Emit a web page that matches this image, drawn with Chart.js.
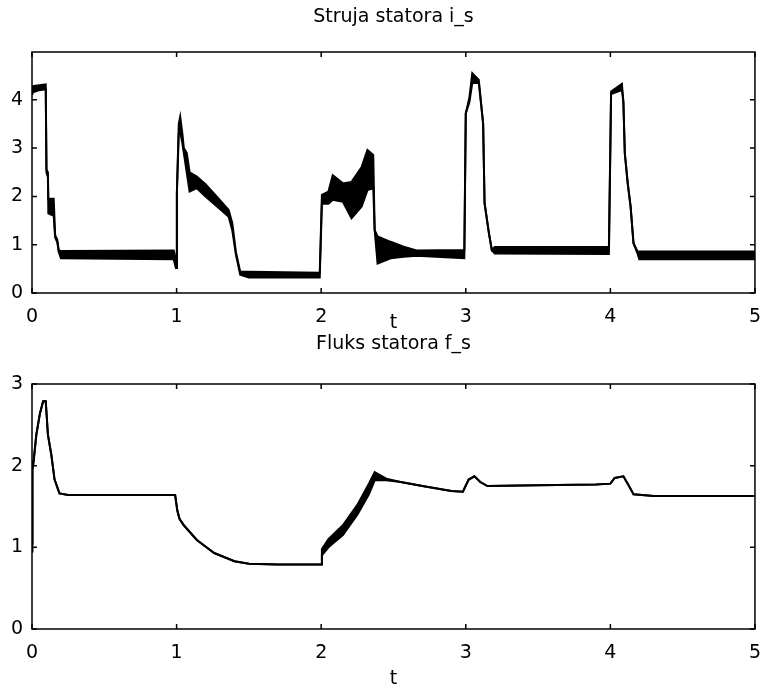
<!DOCTYPE html>
<html>
<head>
<meta charset="utf-8">
<script src="https://cdn.jsdelivr.net/npm/chart.js@4.4.1/dist/chart.umd.min.js"></script>
<style>
  html, body { margin: 0; padding: 0; background: #ffffff; }
  #wrap { position: relative; width: 774px; height: 691px; }
  canvas { position: absolute; left: 0; top: 0; }
</style>
</head>
<body>
<div id="wrap">
  <canvas id="c1" width="774" height="691"></canvas>
  <canvas id="c2" width="774" height="691"></canvas>
</div>
<script>
// ---------- data ----------
const xTicks = [0, 1, 2, 3, 4, 5];
const topYTicks = [0, 1, 2, 3, 4];
const botYTicks = [0, 1, 2, 3];
const topTitle = "Struja statora i_s";
const botTitle = "Fluks statora f_s";
const xLabel = "t";

// stator current: time, lower and upper edge of the (noisy) trace
const curT  = [0.000, 0.003, 0.050, 0.095, 0.100, 0.110, 0.113, 0.150, 0.160, 0.175, 0.185, 0.200, 0.980, 0.995, 1.000, 1.002, 1.015, 1.025, 1.040, 1.050, 1.070, 1.090, 1.140, 1.200, 1.280, 1.360, 1.385, 1.410, 1.440, 1.500, 1.990, 2.005, 2.050, 2.080, 2.150, 2.210, 2.280, 2.320, 2.360, 2.370, 2.390, 2.480, 2.570, 2.660, 2.990, 3.000, 3.025, 3.045, 3.090, 3.120, 3.130, 3.160, 3.180, 3.200, 3.990, 4.005, 4.080, 4.090, 4.100, 4.120, 4.140, 4.160, 4.190, 4.200, 5.000];
const curLo = [4.12, 4.15, 4.20, 4.22, 2.50, 2.40, 1.65, 1.60, 1.15, 1.05, 0.85, 0.72, 0.70, 0.52, 0.52, 2.07, 3.30, 3.35, 3.10, 2.90, 2.50, 2.10, 2.17, 2.00, 1.79, 1.58, 1.30, 0.80, 0.38, 0.32, 0.32, 1.85, 1.85, 1.93, 1.89, 1.55, 1.79, 2.13, 2.17, 1.30, 0.61, 0.72, 0.75, 0.77, 0.72, 3.72, 3.95, 4.35, 4.35, 3.51, 1.86, 1.24, 0.89, 0.82, 0.81, 4.12, 4.20, 3.96, 2.89, 2.27, 1.79, 1.03, 0.80, 0.70, 0.70];
const curHi = [4.22, 4.28, 4.30, 4.32, 2.55, 2.50, 1.95, 1.95, 1.20, 1.10, 0.88, 0.87, 0.88, 0.70, 0.52, 2.07, 3.50, 3.65, 3.30, 3.00, 2.90, 2.50, 2.41, 2.25, 1.99, 1.72, 1.45, 0.85, 0.44, 0.44, 0.42, 2.03, 2.10, 2.44, 2.27, 2.30, 2.61, 2.96, 2.86, 1.30, 1.17, 1.06, 0.96, 0.88, 0.89, 3.72, 4.05, 4.55, 4.41, 3.51, 1.86, 1.24, 0.89, 0.95, 0.96, 4.17, 4.33, 3.96, 2.89, 2.27, 1.79, 1.03, 0.85, 0.86, 0.86];

// stator flux: time, lower and upper edge of the trace
const fluxT  = [0.000, 0.003, 0.010, 0.030, 0.055, 0.077, 0.095, 0.110, 0.134, 0.156, 0.190, 0.250, 0.990, 1.005, 1.020, 1.050, 1.140, 1.260, 1.400, 1.500, 1.700, 2.000, 2.005, 2.050, 2.150, 2.250, 2.330, 2.370, 2.450, 2.550, 2.700, 2.900, 2.980, 3.020, 3.060, 3.100, 3.150, 3.500, 3.900, 4.000, 4.030, 4.090, 4.120, 4.160, 4.300, 5.000];
const fluxLo = [0.95, 1.95, 2.02, 2.38, 2.64, 2.79, 2.79, 2.38, 2.13, 1.83, 1.66, 1.64, 1.64, 1.45, 1.35, 1.27, 1.09, 0.93, 0.83, 0.80, 0.79, 0.79, 0.90, 1.00, 1.15, 1.40, 1.65, 1.82, 1.82, 1.80, 1.75, 1.69, 1.68, 1.83, 1.87, 1.80, 1.75, 1.76, 1.77, 1.78, 1.85, 1.87, 1.78, 1.65, 1.63, 1.63];
const fluxHi = [1.05, 2.05, 2.05, 2.38, 2.64, 2.79, 2.79, 2.38, 2.13, 1.83, 1.66, 1.64, 1.64, 1.45, 1.35, 1.27, 1.09, 0.93, 0.83, 0.80, 0.79, 0.79, 0.98, 1.10, 1.27, 1.52, 1.78, 1.92, 1.84, 1.80, 1.75, 1.69, 1.68, 1.83, 1.87, 1.80, 1.75, 1.76, 1.77, 1.78, 1.85, 1.87, 1.78, 1.65, 1.63, 1.63];

// ---------- helpers ----------
const FONT = "DejaVu Sans, Verdana, sans-serif";
const FSIZE = 19;

function pts(t, v) { return t.map((x, i) => ({ x: x, y: v[i] })); }

const frameAndText = {
  id: 'frameAndText',
  afterDraw(chart, args, opts) {
    const ctx = chart.ctx;
    const a = chart.chartArea;
    const xs = chart.scales.x, ys = chart.scales.y;
    ctx.save();
    ctx.strokeStyle = '#000';
    ctx.lineWidth = 1.5;
    ctx.strokeRect(a.left, a.top, a.right - a.left, a.bottom - a.top);
    const L = 5;
    ctx.beginPath();
    xs.ticks.forEach(tk => {
      const px = xs.getPixelForValue(tk.value);
      ctx.moveTo(px, a.bottom); ctx.lineTo(px, a.bottom - L);
      ctx.moveTo(px, a.top); ctx.lineTo(px, a.top + L);
    });
    ys.ticks.forEach(tk => {
      const py = ys.getPixelForValue(tk.value);
      ctx.moveTo(a.left, py); ctx.lineTo(a.left + L, py);
      ctx.moveTo(a.right, py); ctx.lineTo(a.right - L, py);
    });
    ctx.stroke();
    ctx.fillStyle = '#000';
    ctx.font = FSIZE + 'px ' + FONT;
    ctx.textAlign = 'center';
    ctx.textBaseline = 'middle';
    const cx = (a.left + a.right) / 2;
    ctx.fillText(opts.title, cx, opts.titleY);
    ctx.fillText(opts.xlabel, cx, opts.xlabelY);
    ctx.restore();
  }
};

function makeChart(id, t, lo, hi, yMax, yTicks, padTop, areaBottom, title, titleY, xlabelY) {
  return new Chart(document.getElementById(id), {
    type: 'line',
    data: {
      datasets: [
        { data: pts(t, lo), borderColor: '#000', borderWidth: 2, pointRadius: 0, fill: false, tension: 0 },
        { data: pts(t, hi), borderColor: '#000', borderWidth: 2, pointRadius: 0, fill: '-1', backgroundColor: '#000', tension: 0 }
      ]
    },
    options: {
      responsive: false,
      animation: false,
      events: [],
      layout: { padding: { top: padTop, right: 7, left: 0, bottom: 0 } },
      plugins: {
        legend: { display: false },
        tooltip: { enabled: false },
        frameAndText: { title: title, titleY: titleY, xlabel: xLabel, xlabelY: xlabelY }
      },
      scales: {
        x: {
          type: 'linear', min: 0, max: 5,
          afterBuildTicks(s) { s.ticks = xTicks.map(v => ({ value: v })); },
          afterFit(s) { s.height = 691 - areaBottom; },
          grid: { display: false, drawTicks: false },
          border: { display: false },
          ticks: { color: '#000', padding: 13, font: { family: FONT, size: FSIZE }, maxRotation: 0 }
        },
        y: {
          type: 'linear', min: 0, max: yMax,
          afterBuildTicks(s) { s.ticks = yTicks.map(v => ({ value: v })); },
          ticks: { color: '#000', padding: 9, font: { family: FONT, size: FSIZE } },
          afterFit(s) { s.width = 32; },
          grid: { display: false, drawTicks: false },
          border: { display: false }
        }
      }
    },
    plugins: [frameAndText]
  });
}

makeChart('c1', curT, curLo, curHi, 4.99, topYTicks, 52, 293, topTitle, 17, 323);
makeChart('c2', fluxT, fluxLo, fluxHi, 3, botYTicks, 384, 629, botTitle, 344, 679);
</script>
</body>
</html>
